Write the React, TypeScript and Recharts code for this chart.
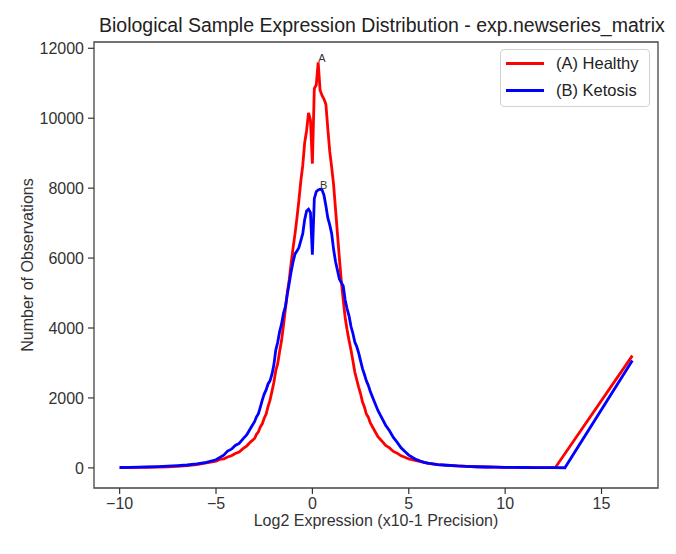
import React from "react";
import { LineChart, Line, XAxis, YAxis, ReferenceArea, Label } from "recharts";

// histogram of log2 expression, bins of 0.1 (sparser in the tails)
const healthyBins = [
  -10, -9.5, -9, -8.5, -8, -7.5, -7, -6.5, -6, -5.5,
  -5, -4.8, -4.6, -4.4, -4.2, -4, -3.8, -3.6, -3.4, -3.2,
  -3, -2.9, -2.8, -2.7, -2.6, -2.5, -2.4, -2.3, -2.2, -2.1,
  -2, -1.9, -1.8, -1.7, -1.6, -1.5, -1.4, -1.3, -1.2, -1.1,
  -1, -0.9, -0.8, -0.7, -0.6, -0.5, -0.4, -0.3, -0.2, -0.1,
  0, 0.1, 0.2, 0.3, 0.4, 0.5, 0.6, 0.7, 0.8, 0.9,
  1, 1.1, 1.2, 1.3, 1.4, 1.5, 1.6, 1.7, 1.8, 1.9,
  2, 2.1, 2.2, 2.3, 2.4, 2.5, 2.6, 2.7, 2.8, 2.9,
  3, 3.2, 3.4, 3.6, 3.8, 4, 4.2, 4.4, 4.6, 4.8,
  5, 5.5, 6, 6.5, 7, 7.5, 8, 8.5, 9, 9.5,
  10, 10.5, 11, 11.5, 12, 12.6, 16.6,
];
const healthyCounts = [
  8, 10, 13, 18, 24, 32, 45, 65, 95, 140,
  195, 240, 255, 310, 345, 410, 455, 550, 630, 745,
  840, 960, 1030, 1170, 1260, 1420, 1540, 1760, 1930, 2180,
  2440, 2780, 2980, 3330, 3640, 4080, 4540, 5020, 5390, 5870,
  6300, 6700, 7150, 7650, 8200, 8650, 9300, 9650, 10150, 9950,
  8700, 10850, 10950, 11600, 10800, 10650, 10550, 10400, 9700, 9050,
  8600, 8100, 7400, 6700, 6000, 5350, 4800, 4300, 3950, 3650,
  3380, 3070, 2740, 2520, 2310, 2120, 1880, 1740, 1540, 1450,
  1290, 1090, 890, 770, 640, 570, 470, 420, 345, 305,
  255, 190, 130, 95, 70, 55, 40, 32, 25, 20,
  15, 12, 10, 8, 6, 5, 3210,
];

const ketosisBins = [
  -10, -9.5, -9, -8.5, -8, -7.5, -7, -6.5, -6, -5.5,
  -5, -4.8, -4.6, -4.4, -4.2, -4, -3.8, -3.6, -3.4, -3.2,
  -3, -2.9, -2.8, -2.7, -2.6, -2.5, -2.4, -2.3, -2.2, -2.1,
  -2, -1.9, -1.8, -1.7, -1.6, -1.5, -1.4, -1.3, -1.2, -1.1,
  -1, -0.9, -0.8, -0.7, -0.6, -0.5, -0.4, -0.3, -0.2, -0.1,
  0, 0.1, 0.2, 0.3, 0.4, 0.5, 0.6, 0.7, 0.8, 0.9,
  1, 1.1, 1.2, 1.3, 1.4, 1.5, 1.6, 1.7, 1.8, 1.9,
  2, 2.1, 2.2, 2.3, 2.4, 2.5, 2.6, 2.7, 2.8, 2.9,
  3, 3.2, 3.4, 3.6, 3.8, 4, 4.2, 4.4, 4.6, 4.8,
  5, 5.2, 5.4, 5.6, 5.8, 6, 6.5, 7, 7.5, 8,
  8.5, 9, 9.5, 10, 10.5, 11, 11.5, 12, 12.5, 13.1,
  16.6,
];
const ketosisCounts = [
  10, 14, 20, 27, 35, 48, 62, 82, 112, 160,
  232, 300, 365, 480, 535, 640, 700, 830, 950, 1140,
  1320, 1460, 1550, 1740, 1940, 2110, 2230, 2400, 2490, 2670,
  2940, 3370, 3590, 3900, 4110, 4420, 4610, 4970, 5290, 5620,
  5900, 6120, 6200, 6300, 6500, 6700, 7100, 7350, 7400, 7300,
  6100, 7700, 7900, 7950, 7970, 7950, 7800, 7500, 7150, 6950,
  6700, 6250, 5900, 5650, 5400, 5300, 5200, 4800, 4550, 4350,
  4050, 3850, 3600, 3470, 3290, 3060, 2840, 2670, 2490, 2360,
  2190, 1910, 1640, 1430, 1220, 1060, 870, 730, 575, 465,
  365, 295, 235, 195, 158, 135, 95, 75, 55, 42,
  32, 25, 20, 15, 12, 10, 8, 6, 5, 4,
  3070,
];

const xTicks = [-10, -5, 0, 5, 10, 15];
const yTicks = [0, 2000, 4000, 6000, 8000, 10000, 12000];

const series = [
  { name: "(A) Healthy", tag: "A", color: "#ff0000", bins: healthyBins, counts: healthyCounts },
  { name: "(B) Ketosis", tag: "B", color: "#0000ff", bins: ketosisBins, counts: ketosisCounts },
];

const FONT = '"Liberation Sans", Arial, sans-serif';

// matplotlib-style autoscale: 5% padding on each side of the data
function padded(values: number[]): [number, number] {
  const lo = Math.min(...values);
  const hi = Math.max(...values);
  const m = (hi - lo) * 0.05;
  return [lo - m, hi + m];
}

const xDomain = padded([...healthyBins, ...ketosisBins]);
const yDomain = padded([...healthyCounts, ...ketosisCounts]);

const fmtTick = (v: number) => (v < 0 ? `\u2212${Math.abs(v)}` : `${v}`);

// writes the series letter at its highest bin, left/baseline anchored
function peakMarker(tag: string, peakIndex: number) {
  return (props: any) => {
    const { cx, cy, index } = props;
    if (index !== peakIndex) return <g key={`pt-${index}`} />;
    return (
      <text key={`pt-${index}`} x={cx} y={cy} fontSize={11} fill="#333" fontFamily={FONT}>
        {tag}
      </text>
    );
  };
}

export default function App() {
  return (
    <div
      style={{
        position: "absolute",
        left: 0,
        top: 0,
        width: 676,
        height: 554,
        background: "#fff",
        fontFamily: FONT,
      }}
    >
      <div
        style={{
          position: "absolute",
          left: 99,
          width: 564,
          top: 16,
          textAlign: "center",
          fontSize: 19.5,
          lineHeight: "19px",
          color: "#222",
          whiteSpace: "nowrap",
        }}
      >
        Biological Sample Expression Distribution - exp.newseries_matrix
      </div>

      <LineChart width={676} height={554} margin={{ top: 42, right: 18, bottom: 0, left: 0 }}>
        <XAxis
          type="number"
          dataKey="x"
          domain={xDomain}
          ticks={xTicks}
          allowDataOverflow
          height={66}
          axisLine={false}
          tickSize={6}
          tickMargin={4}
          tickLine={{ stroke: "#333", strokeWidth: 1.2 }}
          tick={{ fontSize: 16, fill: "#333", fontFamily: FONT }}
          tickFormatter={fmtTick}
        >
          <Label
            value="Log2 Expression (x10-1 Precision)"
            position="insideBottom"
            offset={28}
            style={{ fontSize: 16, fill: "#333", fontFamily: FONT }}
          />
        </XAxis>
        <YAxis
          type="number"
          domain={yDomain}
          ticks={yTicks}
          allowDataOverflow
          width={94}
          axisLine={false}
          tickSize={6}
          tickMargin={4}
          tickLine={{ stroke: "#333", strokeWidth: 1.2 }}
          tick={{ fontSize: 16, fill: "#333", fontFamily: FONT }}
        >
          <Label
            value="Number of Observations"
            angle={-90}
            position="insideLeft"
            offset={27}
            style={{ fontSize: 16, fill: "#333", fontFamily: FONT, textAnchor: "middle" }}
          />
        </YAxis>

        <ReferenceArea
          x1={xDomain[0]}
          x2={xDomain[1]}
          y1={yDomain[0]}
          y2={yDomain[1]}
          fill="none"
          stroke="#444"
          strokeWidth={1.3}
          ifOverflow="visible"
        />

        {series.map((s) => {
          const points = s.bins.map((x, i) => ({ x, y: s.counts[i] }));
          const peak = s.counts.indexOf(Math.max(...s.counts));
          return (
            <Line
              key={s.tag}
              data={points}
              dataKey="y"
              type="linear"
              stroke={s.color}
              strokeWidth={2.8}
              dot={peakMarker(s.tag, peak)}
              activeDot={false}
              isAnimationActive={false}
            />
          );
        })}
      </LineChart>

      <div
        style={{
          position: "absolute",
          left: 500,
          top: 49,
          width: 150,
          height: 58,
          boxSizing: "border-box",
          border: "1px solid #d2d2d2",
          borderRadius: 4,
          background: "#fff",
        }}
      >
        {series.map((s, i) => (
          <div key={s.tag}>
            <div
              style={{
                position: "absolute",
                left: 5,
                top: 12 + i * 27,
                width: 38,
                height: 3,
                background: s.color,
              }}
            />
            <div
              style={{
                position: "absolute",
                left: 55,
                top: 3 + i * 27,
                fontSize: 16.5,
                lineHeight: "20px",
                color: "#222",
                whiteSpace: "nowrap",
              }}
            >
              {s.name}
            </div>
          </div>
        ))}
      </div>
    </div>
  );
}
